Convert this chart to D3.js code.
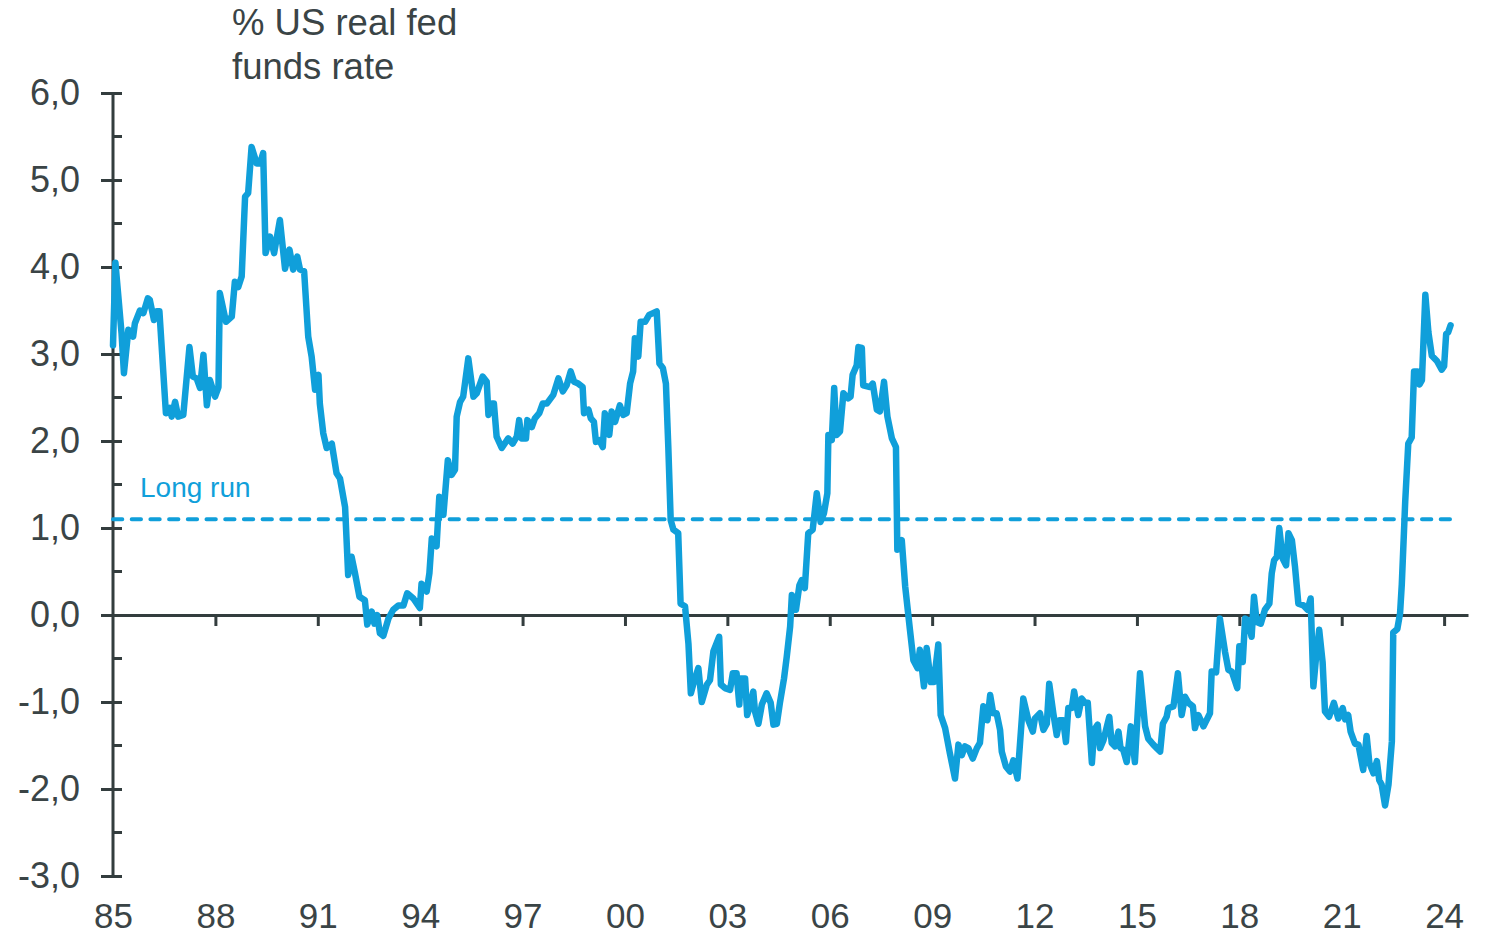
<!DOCTYPE html>
<html><head><meta charset="utf-8">
<script src="https://cdn.jsdelivr.net/npm/d3@7"></script>
<style>body{margin:0;background:#fff}svg{display:block}</style>
</head><body><svg id="c" width="1491" height="936"></svg>
<script>
// Decimal years and % US real fed funds rate
const dates = [
1985.00,1985.07,1985.25,1985.32,1985.45,1985.59,1985.64,1985.79,1985.89,1986.02,1986.08,1986.20,1986.28,1986.36,1986.55,1986.67,1986.72,1986.82,1986.91,1987.06,
1987.24,1987.34,1987.45,1987.55,1987.65,1987.75,1987.84,1987.99,1988.09,1988.13,1988.31,1988.48,1988.57,1988.67,1988.77,1988.87,1988.96,1989.06,1989.21,1989.31,
1989.40,1989.47,1989.60,1989.72,1989.89,1990.04,1990.17,1990.28,1990.40,1990.48,1990.60,1990.72,1990.82,1990.92,1991.02,1991.06,1991.16,1991.26,1991.41,1991.55,
1991.65,1991.80,1991.89,1991.99,1992.09,1992.22,1992.38,1992.45,1992.58,1992.66,1992.74,1992.82,1992.92,1993.07,1993.21,1993.36,1993.51,1993.62,1993.80,1993.99,
1994.04,1994.19,1994.27,1994.34,1994.48,1994.56,1994.68,1994.81,1994.92,1995.02,1995.07,1995.17,1995.26,1995.41,1995.56,1995.66,1995.83,1995.95,1996.00,1996.10,
1996.16,1996.24,1996.39,1996.58,1996.71,1996.83,1996.90,1996.97,1997.10,1997.14,1997.27,1997.36,1997.49,1997.59,1997.71,1997.90,1998.05,1998.18,1998.29,1998.41,
1998.51,1998.63,1998.76,1998.80,1998.93,1999.00,1999.09,1999.15,1999.25,1999.35,1999.41,1999.54,1999.61,1999.71,1999.85,1999.95,2000.05,2000.15,2000.24,2000.29,
2000.39,2000.46,2000.59,2000.71,2000.93,2001.01,2001.11,2001.20,2001.27,2001.34,2001.42,2001.56,2001.63,2001.76,2001.86,2001.93,2002.02,2002.15,2002.25,2002.40,
2002.49,2002.59,2002.76,2002.81,2002.93,2003.08,2003.16,2003.27,2003.35,2003.39,2003.52,2003.58,2003.66,2003.76,2003.81,2003.91,2004.01,2004.15,2004.27,2004.35,
2004.45,2004.54,2004.66,2004.74,2004.84,2004.89,2005.01,2005.11,2005.18,2005.27,2005.37,2005.50,2005.62,2005.73,2005.83,2005.93,2005.96,2006.06,2006.13,2006.20,
2006.30,2006.40,2006.54,2006.61,2006.67,2006.79,2006.84,2006.94,2006.98,2007.18,2007.26,2007.38,2007.47,2007.59,2007.69,2007.82,2007.94,2007.98,2008.11,2008.21,
2008.35,2008.45,2008.57,2008.64,2008.76,2008.84,2008.96,2009.05,2009.18,2009.25,2009.38,2009.52,2009.67,2009.77,2009.87,2009.96,2010.06,2010.19,2010.31,2010.40,
2010.50,2010.62,2010.70,2010.79,2010.89,2010.99,2011.04,2011.16,2011.28,2011.38,2011.50,2011.67,2011.82,2011.95,2012.01,2012.16,2012.26,2012.36,2012.43,2012.55,
2012.65,2012.73,2012.84,2012.92,2012.99,2013.09,2013.16,2013.28,2013.38,2013.48,2013.56,2013.68,2013.75,2013.85,2013.92,2014.02,2014.19,2014.26,2014.36,2014.46,
2014.52,2014.60,2014.70,2014.82,2014.94,2015.09,2015.24,2015.33,2015.48,2015.58,2015.68,2015.76,2015.87,2015.92,2016.07,2016.20,2016.31,2016.41,2016.51,2016.64,
2016.70,2016.80,2016.95,2017.14,2017.19,2017.32,2017.43,2017.58,2017.68,2017.78,2017.94,2018.00,2018.10,2018.17,2018.26,2018.36,2018.43,2018.51,2018.63,2018.75,
2018.88,2018.95,2019.02,2019.10,2019.17,2019.27,2019.37,2019.44,2019.54,2019.63,2019.73,2019.88,2020.00,2020.09,2020.17,2020.25,2020.34,2020.44,2020.51,2020.63,
2020.77,2020.90,2021.03,2021.10,2021.19,2021.26,2021.39,2021.49,2021.63,2021.73,2021.81,2021.93,2022.03,2022.10,2022.17,2022.27,2022.37,2022.47,2022.51,2022.63,
2022.71,2022.76,2022.86,2022.95,2023.05,2023.12,2023.22,2023.28,2023.35,2023.45,2023.54,2023.64,2023.79,2023.93,2024.00,2024.06,2024.12,2024.19
];
const values = [
3.10,4.05,3.24,2.78,3.28,3.20,3.35,3.50,3.47,3.64,3.62,3.39,3.49,3.49,2.32,2.38,2.28,2.45,2.28,2.30,
3.08,2.74,2.72,2.61,2.99,2.41,2.70,2.51,2.62,3.70,3.37,3.43,3.83,3.77,3.89,4.81,4.85,5.38,5.19,5.19,
5.31,4.16,4.35,4.16,4.54,3.98,4.20,3.97,4.12,3.97,3.95,3.20,2.97,2.59,2.76,2.43,2.09,1.92,1.97,1.63,
1.57,1.24,0.46,0.67,0.48,0.21,0.17,-0.11,0.04,-0.10,0.00,-0.21,-0.24,-0.04,0.06,0.11,0.11,0.25,0.19,0.08,
0.36,0.27,0.48,0.88,0.79,1.36,1.15,1.78,1.61,1.67,2.28,2.45,2.51,2.95,2.51,2.55,2.74,2.68,2.30,2.43,
2.43,2.05,1.92,2.03,1.97,2.05,2.24,2.03,2.03,2.24,2.16,2.26,2.32,2.43,2.43,2.53,2.72,2.57,2.64,2.80,
2.68,2.66,2.62,2.32,2.36,2.26,2.22,1.99,2.01,1.93,2.32,2.07,2.34,2.22,2.41,2.30,2.32,2.66,2.80,3.18,
2.97,3.37,3.37,3.45,3.49,2.89,2.84,2.66,1.93,1.09,0.98,0.94,0.13,0.10,-0.33,-0.90,-0.77,-0.61,-1.00,-0.80,
-0.75,-0.42,-0.25,-0.80,-0.84,-0.86,-0.67,-0.67,-1.03,-0.73,-0.73,-1.15,-1.05,-0.88,-1.11,-1.25,-1.03,-0.90,-1.01,-1.26,
-1.25,-1.01,-0.73,-0.48,-0.13,0.23,0.06,0.34,0.40,0.31,0.94,0.98,1.40,1.07,1.17,1.40,2.07,2.01,2.61,2.07,
2.11,2.55,2.49,2.51,2.76,2.87,3.08,3.07,2.64,2.62,2.66,2.36,2.34,2.68,2.28,2.03,1.93,0.75,0.86,0.33,
-0.17,-0.52,-0.61,-0.40,-0.82,-0.38,-0.77,-0.77,-0.34,-1.15,-1.30,-1.59,-1.88,-1.49,-1.61,-1.51,-1.53,-1.65,-1.53,-1.47,
-1.05,-1.21,-0.92,-1.13,-1.13,-1.32,-1.57,-1.74,-1.80,-1.67,-1.88,-0.96,-1.21,-1.34,-1.19,-1.13,-1.32,-1.25,-0.79,-1.13,
-1.38,-1.21,-1.21,-1.46,-1.07,-1.07,-0.88,-1.15,-0.96,-1.01,-1.01,-1.70,-1.32,-1.26,-1.53,-1.44,-1.17,-1.47,-1.51,-1.34,
-1.53,-1.55,-1.69,-1.28,-1.69,-0.67,-1.28,-1.42,-1.49,-1.53,-1.57,-1.25,-1.17,-1.07,-1.05,-0.67,-1.15,-0.94,-1.01,-1.05,
-1.30,-1.15,-1.28,-1.13,-0.65,-0.66,-0.04,-0.42,-0.63,-0.65,-0.84,-0.36,-0.54,-0.04,-0.06,-0.25,0.21,-0.08,-0.10,0.06,
0.13,0.48,0.63,0.67,1.00,0.65,0.57,0.94,0.86,0.56,0.13,0.11,0.06,0.19,-0.82,-0.48,-0.17,-0.54,-1.11,-1.17,
-1.01,-1.19,-1.07,-1.20,-1.15,-1.34,-1.48,-1.49,-1.78,-1.39,-1.70,-1.82,-1.68,-1.90,-1.95,-2.19,-1.95,-1.45,-0.20,-0.16,
0.02,0.35,1.30,1.97,2.04,2.80,2.80,2.65,2.70,3.68,3.25,2.98,2.92,2.82,2.86,3.23,3.25,3.33
];
const yTicks = [-3,-2,-1,0,1,2,3,4,5,6];
const yMinorTicks = [-2.5,-1.5,-0.5,0.5,1.5,2.5,3.5,4.5,5.5];
const xTicks = [1985,1988,1991,1994,1997,2000,2003,2006,2009,2012,2015,2018,2021,2024];
const longRun = 1.1;
const titleLines = ["% US real fed", "funds rate"];
const longRunLabel = "Long run";

const data = dates.map((d,i)=>({d, v: values[i]}));
const svg = d3.select("#c");
const axisColor = "#333d3e";
const textColor = "#3a4446";
const blue = "#109fda";
const font = "'Liberation Sans', Arial, Helvetica, sans-serif";

const x = d3.scaleLinear().domain([1985, 2024.7]).range([113, 1468]);
const y = d3.scaleLinear().domain([-3, 6]).range([876, 93]);

// Y axis
const yAxis = svg.append("g").attr("transform", `translate(${x(1985)},0)`)
  .call(d3.axisLeft(y).tickValues(yTicks).tickSize(12).tickPadding(21)
    .tickFormat(v => v.toFixed(1).replace(".", ",")));
yAxis.select(".domain").remove();
yAxis.selectAll(".tick line").attr("x2", -12).attr("x1", 9).attr("stroke", axisColor).attr("stroke-width", 3);
yAxis.selectAll(".tick text").attr("fill", textColor).style("font-family", font).style("font-size", "36px");
svg.append("g").attr("transform", `translate(${x(1985)},0)`)
  .selectAll("line").data(yMinorTicks).join("line")
  .attr("x1", 0).attr("x2", 9).attr("y1", d => y(d)).attr("y2", d => y(d))
  .attr("stroke", axisColor).attr("stroke-width", 3);
svg.append("line").attr("x1", x(1985)).attr("x2", x(1985))
  .attr("y1", y(6)).attr("y2", y(-3) + 1.5).attr("stroke", axisColor).attr("stroke-width", 3);

// X axis at zero
const xAxis = svg.append("g").attr("transform", `translate(0,${y(0)})`)
  .call(d3.axisBottom(x).tickValues(xTicks).tickSize(11).tickSizeOuter(0).tickFormat(d => String(d).slice(2)));
xAxis.select(".domain").attr("stroke", axisColor).attr("stroke-width", 3);
xAxis.selectAll(".tick line").attr("stroke", axisColor).attr("stroke-width", 3);
xAxis.selectAll(".tick").filter(d => d === 1985).select("line").remove();
xAxis.selectAll(".tick text").attr("fill", textColor).style("font-family", font).style("font-size", "35px")
  .attr("y", 0).attr("dy", 0)
  .attr("transform", `translate(0,${y(-3) + 52 - y(0)})`);

// Long run dashed line
svg.append("line").attr("x1", x(1985)).attr("x2", x(2024.2))
  .attr("y1", y(longRun)).attr("y2", y(longRun))
  .attr("stroke", blue).attr("stroke-width", 4).attr("stroke-linecap", "round")
  .attr("stroke-dasharray", "9.3,9.4");
svg.append("text").attr("x", 140).attr("y", y(longRun) - 22)
  .attr("fill", blue).style("font-family", font).style("font-size", "28px").text(longRunLabel);

// Series
svg.append("path").datum(data)
  .attr("fill", "none").attr("stroke", blue).attr("stroke-width", 6.5)
  .attr("stroke-linejoin", "round").attr("stroke-linecap", "round")
  .attr("d", d3.line().x(d => x(d.d)).y(d => y(d.v)));

// Title
svg.append("text").attr("x", 232).attr("y", 35)
  .attr("fill", textColor).style("font-family", font).style("font-size", "36.5px")
  .selectAll("tspan").data(titleLines).join("tspan")
  .attr("x", 232).attr("dy", (d, i) => i === 0 ? 0 : 44).text(d => d);
</script>
</body></html>
